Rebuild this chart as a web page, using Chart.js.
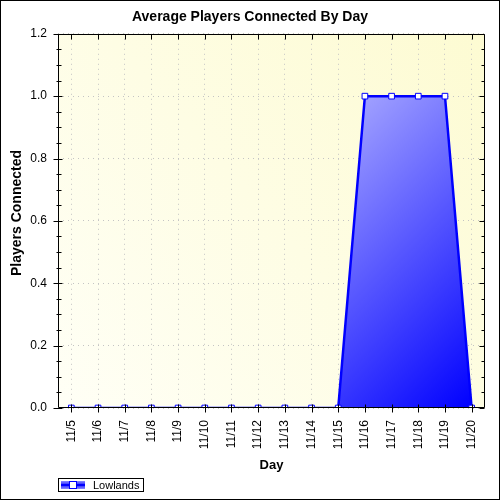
<!DOCTYPE html>
<html>
<head>
<meta charset="utf-8">
<script src="https://cdn.jsdelivr.net/npm/chart.js@4/dist/chart.umd.min.js"></script>
<style>
  html, body { margin: 0; padding: 0; background: #fff; }
  #wrap { width: 500px; height: 500px; }
</style>
</head>
<body>
<div id="wrap"><canvas id="chart" width="500" height="500"></canvas></div>
<script>
  // data
  const days = ["11/5", "11/6", "11/7", "11/8", "11/9", "11/10", "11/11", "11/12",
    "11/13", "11/14", "11/15", "11/16", "11/17", "11/18", "11/19", "11/20"];
  const lowlands = [0, 0, 0, 0, 0, 0, 0, 0, 0, 0, 0, 1, 1, 1, 1, 0];
  const seriesName = "Lowlands";
  const yTicks = [0, 0.2, 0.4, 0.6, 0.8, 1.0, 1.2];
  const yTitle = "Players Connected";

  const FONT = "'Liberation Sans', Arial, sans-serif";

  // plot background + outer border
  const backdrop = {
    id: "backdrop",
    beforeDraw(chart) {
      const { ctx, chartArea: a } = chart;
      ctx.save();
      ctx.fillStyle = "#fff";
      ctx.fillRect(0, 0, chart.width, chart.height);
      const g = ctx.createLinearGradient(a.right, a.top, a.left, a.bottom);
      g.addColorStop(0, "#fdfbd2");
      g.addColorStop(1, "#fffff6");
      ctx.fillStyle = g;
      ctx.fillRect(a.left, a.top, a.right - a.left, a.bottom - a.top);
      ctx.restore();
    },
    afterDraw(chart) {
      const { ctx } = chart;
      ctx.save();
      ctx.strokeStyle = "#000";
      ctx.lineWidth = 1;
      ctx.strokeRect(0.5, 0.5, chart.width - 1, chart.height - 1);
      // y axis title, sits a little above the plot centre like the original
      ctx.translate(17, 213);
      ctx.rotate(-Math.PI / 2);
      ctx.fillStyle = "#000";
      ctx.font = "bold 14px " + FONT;
      ctx.textAlign = "center";
      ctx.textBaseline = "middle";
      ctx.fillText(yTitle, 0, 0);
      ctx.restore();
    }
  };

  // frame around the plot with major and minor tick marks
  const frame = {
    id: "frame",
    afterDatasetsDraw(chart) {
      const { ctx, chartArea: a, scales } = chart;
      const x = scales.x, y = scales.y;
      const L = Math.round(a.left) + 0.5, R = Math.round(a.right) - 0.5;
      const T = Math.round(a.top) + 0.5, B = Math.round(a.bottom) - 0.5;
      ctx.save();
      ctx.strokeStyle = "#000";
      ctx.lineWidth = 1;
      ctx.beginPath();
      ctx.rect(L, T, R - L, B - T);
      // category ticks bottom (crossing) and top (inside)
      days.forEach((d, i) => {
        const px = Math.round(x.getPixelForValue(i)) + 0.5;
        ctx.moveTo(px, B - 3); ctx.lineTo(px, B + 5);
        ctx.moveTo(px, T); ctx.lineTo(px, T + 5);
      });
      // minor ticks every 0.05, major every 0.2
      for (let k = 0; k <= 24; k++) {
        const v = k * 0.05;
        const py = Math.round(y.getPixelForValue(v)) + 0.5;
        const major = k % 4 === 0;
        if (major) {
          ctx.moveTo(L - 5, py); ctx.lineTo(L + 4, py);
          ctx.moveTo(R - 5, py); ctx.lineTo(R, py);
        } else {
          ctx.moveTo(L - 2, py); ctx.lineTo(L + 3, py);
          ctx.moveTo(R - 3, py); ctx.lineTo(R, py);
        }
      }
      ctx.stroke();
      ctx.restore();
    }
  };

  // boxed legend under the plot
  const boxLegend = {
    id: "boxLegend",
    afterDraw(chart) {
      const { ctx } = chart;
      const ds = chart.data.datasets[0];
      ctx.save();
      ctx.strokeStyle = "#000";
      ctx.lineWidth = 1;
      ctx.fillStyle = "#fff";
      ctx.fillRect(58.5, 478.5, 85, 13);
      ctx.strokeRect(58.5, 478.5, 85, 13);
      const g = ctx.createLinearGradient(0, 481, 0, 489);
      g.addColorStop(0, "#8c8cff");
      g.addColorStop(0.5, "#2020ff");
      g.addColorStop(1, "#8c8cff");
      ctx.fillStyle = g;
      ctx.fillRect(61, 481, 24, 8);
      ctx.strokeStyle = ds.borderColor;
      ctx.lineWidth = 2;
      ctx.beginPath();
      ctx.moveTo(61, 485); ctx.lineTo(85, 485);
      ctx.stroke();
      ctx.fillStyle = "#fff";
      ctx.lineWidth = 1;
      ctx.fillRect(69.5, 481.5, 7, 7);
      ctx.strokeRect(69.5, 481.5, 7, 7);
      ctx.fillStyle = "#000";
      ctx.font = "11px " + FONT;
      ctx.textBaseline = "middle";
      ctx.fillText(ds.label, 93, 485.5);
      ctx.restore();
    }
  };

  // diagonal gradient over the filled region (light top-left, deep blue bottom-right)
  function areaFill(context) {
    const chart = context.chart;
    const { ctx, scales, chartArea } = chart;
    if (!chartArea || !scales.x || !scales.y) return "#4040ff";
    const x0 = scales.x.getPixelForValue(10), y0 = scales.y.getPixelForValue(1);
    const x1 = scales.x.getPixelForValue(15), y1 = scales.y.getPixelForValue(0);
    if (![x0, y0, x1, y1].every(Number.isFinite)) return "#4040ff";
    const d = ((x1 - x0) + (y1 - y0)) / 2;
    const g = ctx.createLinearGradient(x0, y0, x0 + d, y0 + d);
    g.addColorStop(0, "#aaaaff");
    g.addColorStop(1, "#0000ff");
    return g;
  }

  new Chart(document.getElementById("chart"), {
    type: "line",
    data: {
      labels: days,
      datasets: [{
        label: seriesName,
        data: lowlands,
        borderColor: "#0000ff",
        borderWidth: 2.5,
        backgroundColor: areaFill,
        fill: "origin",
        tension: 0,
        pointStyle: "rect",
        pointRadius: 4,
        pointBorderWidth: 1,
        pointBackgroundColor: "#fff",
        pointBorderColor: "#0000ff",
        clip: 0
      }]
    },
    options: {
      responsive: false,
      animation: false,
      devicePixelRatio: 1,
      layout: { padding: { top: 0, left: 0, right: 0, bottom: 27 } },
      plugins: {
        legend: { display: false },
        tooltip: { enabled: false },
        title: {
          display: true,
          text: "Average Players Connected By Day",
          color: "#000",
          font: { family: FONT, size: 14, weight: "bold" },
          padding: { top: 9, bottom: 8 }
        }
      },
      scales: {
        x: {
          type: "category",
          offset: true,
          afterFit(scale) { scale.height = 65; },
          border: { display: false, dash: [1, 4] },
          grid: {
            drawTicks: false,
            color: "#c4c4c4",
            lineWidth: 1
          },
          ticks: {
            autoSkip: false,
            minRotation: 90,
            maxRotation: 90,
            padding: 12,
            color: "#000",
            font: { family: FONT, size: 12 }
          },
          title: {
            display: true,
            text: "Day",
            color: "#000",
            padding: 0,
            font: { family: FONT, size: 13, weight: "bold" }
          }
        },
        y: {
          min: 0,
          max: 1.2,
          afterFit(scale) { scale.width = 58; },
          afterBuildTicks(scale) { scale.ticks = yTicks.map(v => ({ value: v })); },
          border: { display: false, dash: [1, 4] },
          grid: {
            drawTicks: false,
            color: "#c4c4c4",
            lineWidth: 1
          },
          ticks: {
            padding: 11,
            color: "#000",
            font: { family: FONT, size: 12 },
            callback: v => Number(v).toFixed(1)
          },
          title: { display: false }
        },
        // empty right-hand axis only reserves the margin on the right
        yr: {
          position: "right",
          min: 0,
          max: 1.2,
          afterFit(scale) { scale.width = 15; },
          border: { display: false },
          grid: { display: false, drawTicks: false },
          ticks: { display: false }
        }
      }
    },
    plugins: [backdrop, frame, boxLegend]
  });
</script>
</body>
</html>
